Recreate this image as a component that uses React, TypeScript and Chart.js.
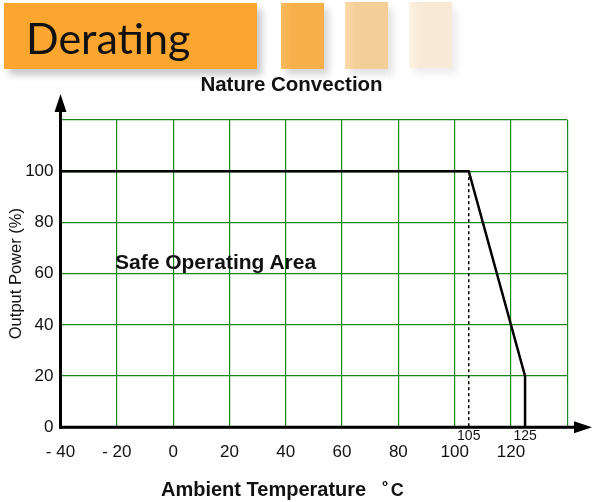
import React, { useEffect, useRef } from "react";
import { Chart, registerables } from "chart.js";

Chart.register(...registerables);

// ---- data ----
const temperatures = [-40, 105, 125, 125];
const outputPower = [100, 100, 20, 0];
const dottedTemps = [105, 105];
const dottedPower = [100, 0];
const xTickValues = [-40, -20, 0, 20, 40, 60, 80, 100, 120, 140];
const yTickValues = [0, 20, 40, 60, 80, 100, 120];
const markedTemps = [105, 125];
const xMin = -40;
const xMax = 140;
const yMin = 0;
const yMax = 120;

const FONT = "'Liberation Sans', Arial, sans-serif";

const axesPlugin = {
  id: "arrowAxes",
  afterDraw(chart: any) {
    const { ctx, chartArea, scales } = chart;
    const xs = scales.x;
    const x0 = chartArea.left;
    const y0 = chartArea.bottom;
    ctx.save();
    ctx.strokeStyle = "#000";
    ctx.fillStyle = "#000";
    ctx.lineWidth = 3;
    // y axis
    ctx.beginPath();
    ctx.moveTo(x0, y0 + 1.5);
    ctx.lineTo(x0, chartArea.top - 12);
    ctx.stroke();
    ctx.beginPath();
    ctx.moveTo(x0, chartArea.top - 26);
    ctx.lineTo(x0 - 6, chartArea.top - 8);
    ctx.lineTo(x0 + 6, chartArea.top - 8);
    ctx.closePath();
    ctx.fill();
    // x axis
    const xEnd = chart.width - 1;
    ctx.beginPath();
    ctx.moveTo(x0 - 1.5, y0);
    ctx.lineTo(xEnd - 12, y0);
    ctx.stroke();
    ctx.beginPath();
    ctx.moveTo(xEnd, y0);
    ctx.lineTo(xEnd - 18, y0 - 6);
    ctx.lineTo(xEnd - 18, y0 + 6);
    ctx.closePath();
    ctx.fill();
    // marked temperatures
    ctx.font = `14px ${FONT}`;
    ctx.fillStyle = "#111";
    ctx.textAlign = "center";
    ctx.textBaseline = "middle";
    markedTemps.forEach((t) => {
      ctx.fillText(String(t), xs.getPixelForValue(t), y0 + 9);
    });
    ctx.restore();
  },
};

export default function App() {
  const canvasRef = useRef<HTMLCanvasElement | null>(null);

  useEffect(() => {
    const canvas = canvasRef.current;
    if (!canvas) return;
    const chart = new Chart(canvas, {
      type: "scatter",
      data: {
        datasets: [
          {
            data: dottedTemps.map((t, i) => ({ x: t, y: dottedPower[i] })),
            showLine: true,
            borderColor: "#000",
            borderWidth: 1.5,
            borderDash: [3, 3],
            pointRadius: 0,
          },
          {
            data: temperatures.map((t, i) => ({ x: t, y: outputPower[i] })),
            showLine: true,
            borderColor: "#000",
            borderWidth: 2.5,
            pointRadius: 0,
          },
        ],
      },
      options: {
        animation: false,
        responsive: true,
        maintainAspectRatio: false,
        layout: { padding: { top: 120, right: 25.7, left: 0, bottom: 0 } },
        plugins: {
          legend: { display: false },
          tooltip: { enabled: false },
          title: { display: false },
        },
        scales: {
          x: {
            type: "linear",
            min: xMin,
            max: xMax,
            afterBuildTicks: (scale: any) => {
              scale.ticks = xTickValues.map((v) => ({ value: v }));
            },
            afterFit: (scale: any) => {
              scale.height = 74.7;
            },
            border: { display: false },
            grid: { color: "#1a8a1a", lineWidth: 1.2, drawTicks: false },
            ticks: {
              padding: 15,
              color: "#111",
              font: { family: FONT, size: 17 },
              callback: (v: any) =>
                v === xMax ? "" : v < 0 ? "- " + Math.abs(v) : String(v),
            },
          },
          y: {
            type: "linear",
            min: yMin,
            max: yMax,
            afterBuildTicks: (scale: any) => {
              scale.ticks = yTickValues.map((v) => ({ value: v }));
            },
            afterFit: (scale: any) => {
              scale.width = 60.5;
            },
            border: { display: false },
            grid: { color: "#1a8a1a", lineWidth: 1.2, drawTicks: false },
            ticks: {
              padding: 7,
              color: "#111",
              font: { family: FONT, size: 17 },
              callback: (v: any) => (v === yMax ? "" : String(v)),
            },
            title: {
              display: true,
              text: "Output Power (%)",
              color: "#111",
              font: { family: FONT, size: 16.5 },
              padding: { top: 7, bottom: 0 },
            },
          },
        },
      },
      plugins: [axesPlugin],
    } as any);
    return () => chart.destroy();
  }, []);

  const sq = (left: number, top: number, h: number, light: string, base: string, sh: number) => (
    <div
      style={{
        position: "absolute",
        left,
        top,
        width: 43,
        height: h,
        background: `linear-gradient(to right, ${light} 0%, ${base} 25%, ${base} 100%)`,
        boxShadow: `5px 6px 7px rgba(0,0,0,${sh})`,
      }}
    />
  );

  return (
    <div
      style={{
        position: "absolute",
        left: 0,
        top: 0,
        width: 593,
        height: 502,
        background: "#fff",
        overflow: "hidden",
      }}
    >
      <canvas ref={canvasRef} style={{ position: "absolute", left: 0, top: 0 }} />
      <div
        style={{
          position: "absolute",
          left: 4,
          top: 3,
          width: 253,
          height: 66,
          background: "#FBA62E",
          boxShadow: "5px 6px 7px rgba(0,0,0,0.22)",
        }}
      >
        <div
          style={{
            position: "absolute",
            left: 22,
            top: 0,
            lineHeight: "70px",
            fontFamily: "Lato, 'Open Sans', sans-serif",
            fontSize: 43,
            color: "#111",
          }}
        >
          Derating
        </div>
      </div>
      {sq(281, 3, 66, "#FDBB60", "#F6AF49", 0.16)}
      {sq(345, 2, 67, "#FEDCAB", "#F4CE97", 0.11)}
      {sq(409, 2, 66, "#FEF3E4", "#F9EAD6", 0.07)}
      <div
        style={{
          position: "absolute",
          left: 0,
          width: 583,
          top: 72,
          lineHeight: "24px",
          textAlign: "center",
          fontFamily: FONT,
          fontWeight: "bold",
          fontSize: 20.5,
          color: "#111",
        }}
      >
        Nature Convection
      </div>
      <div
        style={{
          position: "absolute",
          left: 115,
          top: 250,
          lineHeight: "24px",
          fontFamily: FONT,
          fontWeight: "bold",
          fontSize: 21,
          color: "#111",
          whiteSpace: "nowrap",
        }}
      >
        Safe Operating Area
      </div>
      <div
        style={{
          position: "absolute",
          left: 161,
          top: 474,
          lineHeight: "24px",
          fontFamily: FONT,
          fontWeight: "bold",
          fontSize: 20,
          color: "#111",
          whiteSpace: "pre",
        }}
      >
        {"Ambient Temperature"}
        <span style={{ fontSize: 15, verticalAlign: "5px", marginLeft: 16 }}>º</span>
        <span style={{ fontSize: 18, marginLeft: 3 }}>C</span>
      </div>
    </div>
  );
}
